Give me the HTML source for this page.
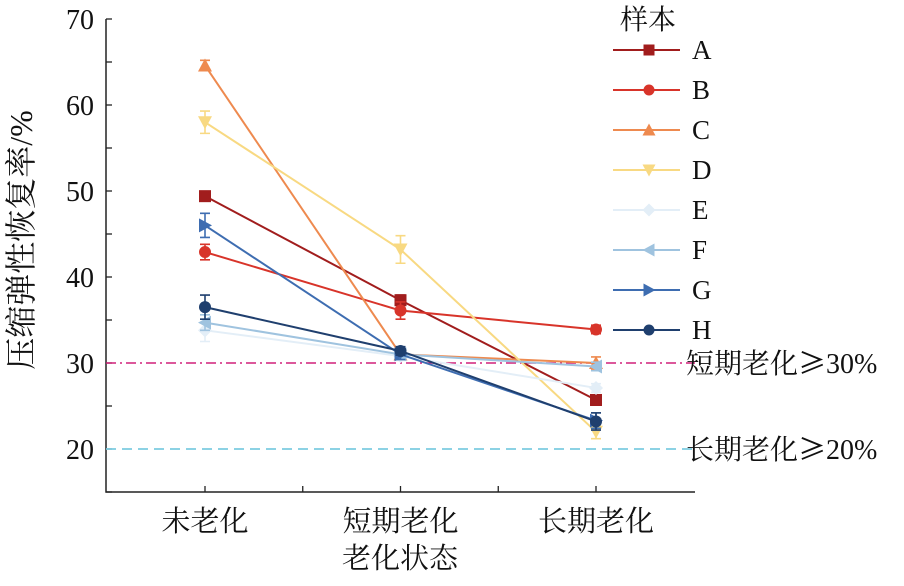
<!DOCTYPE html>
<html><head><meta charset="utf-8"><style>
body{margin:0;background:#fff}
svg text{font-family:"Liberation Serif","Noto Serif CJK SC","Noto Sans CJK SC",serif;fill:#111}
.cjk{font-family:"Noto Sans CJK SC",sans-serif}
</style></head><body>
<svg id="chart" width="904" height="581" xmlns="http://www.w3.org/2000/svg"></svg>
<script>
const categories=["未老化","短期老化","长期老化"];
const seriesNames=["A","B","C","D","E","F","G","H"];
const valsA=[49.4,37.3,25.7];
const valsB=[42.9,36.1,33.9];
const valsC=[64.6,31.0,30.0];
const valsD=[58.0,43.2,22.0];
const valsE=[33.8,30.8,27.1];
const valsF=[34.7,31.0,29.6];
const valsG=[46.0,31.0,23.3];
const valsH=[36.5,31.4,23.2];
const errs=[[0.5,0.6,0.6],[0.9,1.0,0.5],[0.6,0.4,0.7],[1.3,1.6,0.8],[1.3,0.5,0.5],[0.9,0.5,0.5],[1.4,0.6,0.9],[1.4,0.5,1.0]];
const yTicks=[20,30,40,50,60,70];
const colors=["#a11d1d","#d8342a","#ee8a4f","#f8d982","#e3eef7","#9fc3df","#3e6db1","#1f3f6e"];
const markers=["square","circle","up","down","diamond","left","right","circle"];
const allVals=[valsA,valsB,valsC,valsD,valsE,valsF,valsG,valsH];
const NS="http://www.w3.org/2000/svg";
const svg=document.getElementById('chart');
const X0=106,X1=695,Y0=492;
const y=v=>19+(70-v)*8.6;
const xc=i=>205+i*195.5;
function el(t,a,p){const e=document.createElementNS(NS,t);for(const k in a)e.setAttribute(k,a[k]);(p||svg).appendChild(e);return e;}
let ax=el('path',{d:`M${X0} 19 V${Y0} H${X1}`,stroke:'#222','stroke-width':1.5,fill:'none'});


for(let v=15;v<=70;v+=5){const t=el('line',{x1:X0,x2:X0+6,y1:y(v),y2:y(v),stroke:'#222','stroke-width':1.3});

}
yTicks.forEach(v=>{const t=el('text',{x:X0-12,y:y(v)+10,'text-anchor':'end','font-size':28});t.textContent=v;

});
for(let i=0;i<5;i++){const xx=205+i*97.75;const t=el('line',{x1:xx,x2:xx,y1:Y0,y2:Y0-6,stroke:'#222','stroke-width':1.3});

}
categories.forEach((c,i)=>{const t=el('text',{x:xc(i),y:531,'text-anchor':'middle','font-size':29});t.textContent=c;

});
let xt=el('text',{x:400,y:568,'text-anchor':'middle','font-size':29});xt.textContent='老化状态';


let yt=el('text',{x:0,y:0,'text-anchor':'middle','font-size':32,transform:'translate(32,240) rotate(-90)'});yt.textContent='压缩弹性恢复率/%';


let r1=el('line',{x1:X0,x2:X1,y1:y(30),y2:y(30),stroke:'#d0207a','stroke-width':1.5,'stroke-dasharray':'10 4 2 4'});


let r2=el('line',{x1:X0,x2:X1,y1:y(20),y2:y(20),stroke:'#7ccbe0','stroke-width':1.8,'stroke-dasharray':'10 6'});


let l1=el('text',{x:686,y:y(30)+10,'font-size':28});l1.innerHTML='短期老化<tspan class="cjk">≥</tspan>30%';


let l2=el('text',{x:686,y:y(20)+10,'font-size':28});l2.innerHTML='长期老化<tspan class="cjk">≥</tspan>20%';


function marker(kind,cx,cy,col,g,s){s=s||6;let m;
 if(kind==='square')m=el('rect',{x:cx-s,y:cy-s,width:2*s,height:2*s,fill:col},g);
 else if(kind==='circle')m=el('circle',{cx,cy,r:s,fill:col},g);
 else{let p;if(kind==='up')p=[[0,-s-1],[s+1,s],[-s-1,s]];else if(kind==='down')p=[[0,s+1],[s+1,-s],[-s-1,-s]];
 else if(kind==='left')p=[[-s-1,0],[s,-s-1],[s,s+1]];else if(kind==='right')p=[[s+1,0],[-s,-s-1],[-s,s+1]];else p=[[0,-s-1],[s+1,0],[0,s+1],[-s-1,0]];
 m=el('polygon',{points:p.map(q=>(cx+q[0])+','+(cy+q[1])).join(' '),fill:col},g);}
 return m;}
allVals.forEach((vals,si)=>{const col=colors[si];
 const g=el('g',{});
 
 
 const ln=el('polyline',{points:vals.map((v,i)=>xc(i)+','+y(v)).join(' '),fill:'none',stroke:col,'stroke-width':2},g);
 
 
 vals.forEach((v,i)=>{const e=errs[si][i];const x=xc(i);
  const eb=el('path',{d:`M${x} ${y(v+e)} V${y(v-e)} M${x-5} ${y(v+e)} H${x+5} M${x-5} ${y(v-e)} H${x+5}`,stroke:col,'stroke-width':1.6,fill:'none'},g);
  
  
  const m=marker(markers[si],x,y(v),col,g);
  
  });
});
let lt=el('text',{x:648,y:29,'text-anchor':'middle','font-size':28});lt.textContent='样本';


seriesNames.forEach((n,si)=>{const yy=50+si*40;const g=el('g',{});
 
 
 el('line',{x1:613,x2:680,y1:yy,y2:yy,stroke:colors[si],'stroke-width':2},g);
 marker(markers[si],649,yy,colors[si],g,5.5);
 const t=el('text',{x:692,y:yy+9,'font-size':27},g);t.textContent=n;});
</script>
</body></html>
